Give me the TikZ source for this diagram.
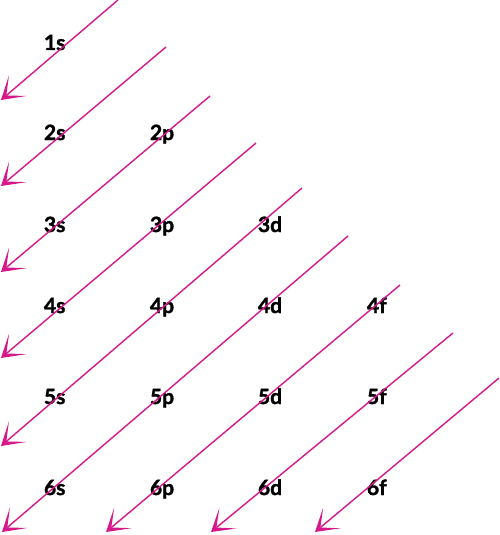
\documentclass[tikz,border=0pt]{standalone}
\usepackage{fontspec}
\setsansfont{Lato}[BoldFeatures={FakeBold=1.6}]
\usetikzlibrary{arrows.meta,positioning}
\definecolor{orbpink}{RGB}{214,24,138}

\begin{document}
\begin{tikzpicture}[x=1pt,y=1pt,on grid,
  orb/.style={font=\sffamily\bfseries\fontsize{21}{21}\selectfont,inner sep=0pt,
    text width=30pt,align=left,text height=15pt,text depth=5pt},
  diag/.style={draw=orbpink,line width=1.4pt,
    -{Stealth[length=22pt,width=27pt,inset=15pt,line width=0pt]}}]
\useasboundingbox (0,0) rectangle (500,-535);
% labels
\node[orb] (s1) at (59,-45) {1s};
\node[orb] (s2) [below=90pt of s1] {2s};
\node[orb] (s3) [below=92pt of s2] {3s};
\node[orb] (s4) [below=81pt of s3] {4s};
\node[orb] (s5) [below=91pt of s4] {5s};
\node[orb] (s6) [below=91pt of s5] {6s};
\node[orb] (p2) [right=106pt of s2] {2p};
\node[orb] (p3) [right=106pt of s3] {3p};
\node[orb] (p4) [right=106pt of s4] {4p};
\node[orb] (p5) [right=106pt of s5] {5p};
\node[orb] (p6) [right=106pt of s6] {6p};
\node[orb] (d3) [right=108pt of p3] {3d};
\node[orb] (d4) [right=108pt of p4] {4d};
\node[orb] (d5) [right=108pt of p5] {5d};
\node[orb] (d6) [right=108pt of p6] {6d};
\node[orb] (f4) [right=109pt of d4] {4f};
\node[orb] (f5) [right=109pt of d5] {5f};
\node[orb] (f6) [right=109pt of d6] {6f};
% arrow ends
\coordinate (a1) at (118,0);   \coordinate (b1) at (1,-100);
\coordinate (a2) at (166,-47); \coordinate (b2) at (1,-186);
\coordinate (a3) at (210,-96); \coordinate (b3) at (1,-272);
\coordinate (a4) at (256,-143);\coordinate (b4) at (1,-358);
\coordinate (a5) at (302,-188);\coordinate (b5) at (1,-446);
\coordinate (a6) at (348,-236);\coordinate (b6) at (2,-532);
\coordinate (a7) at (400,-285);\coordinate (b7) at (106,-532);
\coordinate (a8) at (453,-333);\coordinate (b8) at (211,-532);
\coordinate (a9) at (499,-378);\coordinate (b9) at (315,-532);
\path[every edge/.style=diag]
(a1) edge (b1) (a2) edge (b2) (a3) edge (b3)
(a4) edge (b4) (a5) edge (b5) (a6) edge (b6)
(a7) edge (b7) (a8) edge (b8) (a9) edge (b9);
\end{tikzpicture}
\end{document}
